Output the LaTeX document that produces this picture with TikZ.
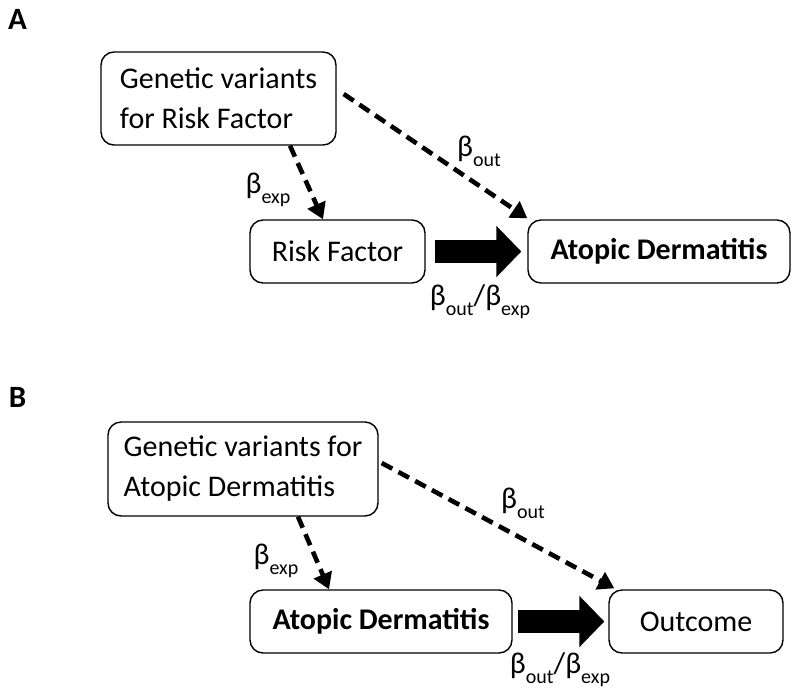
\documentclass[tikz,border=0pt]{standalone}
\usepackage{fontspec}
\setmainfont{Carlito}
\usetikzlibrary{arrows.meta,calc}
\newcommand{\bsub}[1]{β\raisebox{-10pt}{\fontsize{20}{20}\selectfont #1}}
\begin{document}
\begin{tikzpicture}[x=1pt,y=-1pt,
  box/.style={draw,line width=1.4pt,rounded corners=13pt,inner sep=0pt,
    font=\fontsize{30}{40}\selectfont},
  boldbox/.style={box,font=\fontsize{30}{40}\selectfont\bfseries},
  dasharrow/.style={line width=4.6pt,dash pattern=on 12pt off 7pt,
    -{Triangle[length=16pt,width=19pt]}},
  fatarrow/.style={line width=23pt,-{Triangle[length=25pt,width=50pt]}},
  lab/.style={inner sep=0pt,font=\fontsize{30}{32}\selectfont},
  panel/.style={inner sep=0pt,font=\fontsize{31}{31}\selectfont\bfseries}]
\useasboundingbox (0,0) rectangle (800,697);
% Panel A
\node[panel] (pa) at (17.5,19) {A};
\node[box,minimum width=235pt,minimum height=93pt,align=left] (a1) at (218.5,98.5) {Genetic variants\\for Risk Factor};
\node[box,minimum width=175pt,minimum height=63pt] (a2) at (337.5,251.5) {Risk Factor};
\node[boldbox,minimum width=262pt,minimum height=63pt] (a3) at (659,251.5) {Atopic Dermatitis};
\draw[dasharrow] ([xshift=71.5pt]a1.south) -- ([xshift=-14.5pt]a2.north);
\draw[dasharrow] ([xshift=7pt,yshift=4.5pt]a1.east) -- ([xshift=0pt,yshift=1pt]a3.north west);
\draw[fatarrow] ([xshift=9pt]a2.east) -- ([xshift=-6pt]a3.west);
\node[lab] (la1) at (268,190) {\bsub{exp}};
\node[lab] (la2) at (479,151) {\bsub{out}};
\node[lab] (la3) at (480,302) {\bsub{out}/\bsub{exp}};
% Panel B
\node[panel] (pb) at (17.5,397) {B};
\node[box,minimum width=270pt,minimum height=94pt,align=left] (b1) at (243,469) {Genetic variants for\\Atopic Dermatitis};
\node[boldbox,minimum width=262pt,minimum height=63pt] (b2) at (381,621.5) {Atopic Dermatitis};
\node[box,minimum width=174pt,minimum height=63pt] (b3) at (696,621.5) {Outcome\hspace{14pt}};
\draw[dasharrow] ([xshift=55pt]b1.south) -- ([xshift=-52pt]b2.north);
\draw[dasharrow] ([xshift=3pt,yshift=6pt]b1.east) -- ([xshift=6pt,yshift=1pt]b3.north west);
\draw[fatarrow] ([xshift=5pt]b2.east) -- ([xshift=-4pt]b3.west);
\node[lab] (lb1) at (276,561) {\bsub{exp}};
\node[lab] (lb2) at (523,503) {\bsub{out}};
\node[lab] (lb3) at (560,670) {\bsub{out}/\bsub{exp}};
\end{tikzpicture}
\end{document}
